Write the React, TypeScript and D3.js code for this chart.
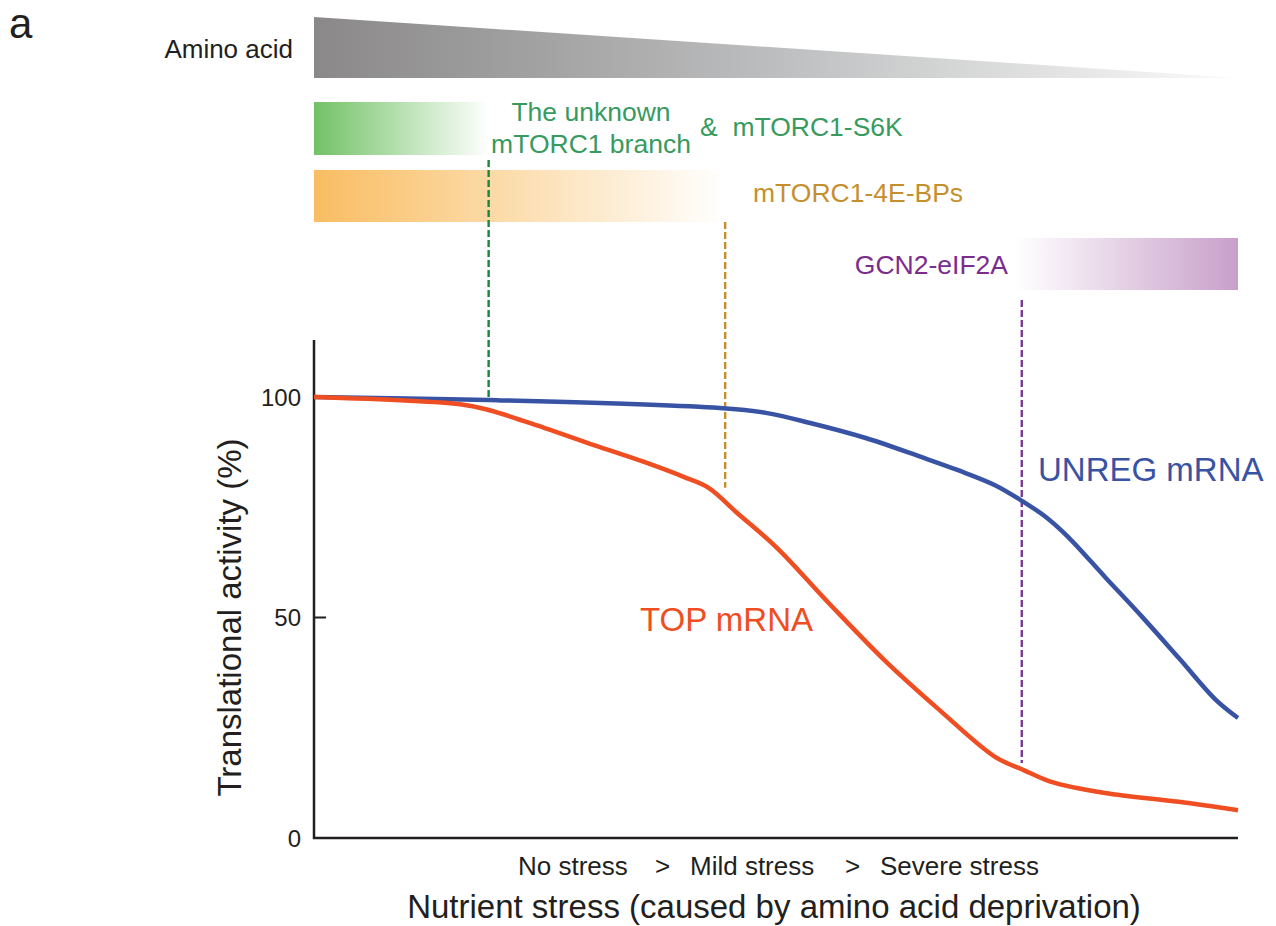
import React from "react";
import * as d3 from "d3";

// ---- data ----
const topX = [0, 16.0, 19.0, 24.9, 30.3, 36.1, 40.0, 42.7, 45.8, 50.1, 55.7, 61.7, 67.7, 73.7, 76.8, 79.7, 85.6, 93.6, 100];
const topY = [100, 98.3, 97.0, 93.0, 89.1, 85.0, 81.9, 79.4, 73.7, 65.8, 53.3, 40.4, 29.0, 18.4, 15.4, 12.8, 10.2, 8.2, 6.3];
const unregX = [0, 19.0, 43.9, 48.9, 53.7, 59.7, 65.7, 69.7, 73.7, 76.8, 79.2, 81.6, 85.6, 89.6, 93.6, 97.6, 100];
const unregY = [100, 99.3, 97.5, 96.4, 94.1, 90.7, 86.4, 83.4, 80.0, 76.2, 72.8, 68.3, 59.2, 50.2, 40.8, 31.3, 27.2];
const yTicks = [0, 50, 100];
const stressLevels = ["No stress", ">", "Mild stress", ">", "Severe stress"];
const stressLabelX = [518, 655, 690, 845, 880];

// thresholds (x in stress units) and where their dashed markers end (y in %)
const s6kX = 18.9, s6kEnd = 99.3;
const bpX = 44.5, bpEnd = 79.4;
const gcnX = 76.6, gcnEnd = 17;
const gcnStart = 76;

const FONT = "'Liberation Sans', Arial, Helvetica, sans-serif";

export default function App() {
  const W = 1276, H = 926;
  const x = d3.scaleLinear().domain([0, 100]).range([314, 1238]);
  const y = d3.scaleLinear().domain([0, 100]).range([838, 397]);

  const line = d3
    .line<[number, number]>()
    .x((d) => x(d[0]))
    .y((d) => y(d[1]))
    .curve(d3.curveCatmullRom.alpha(0.5));

  const topPts = topX.map((v, i) => [v, topY[i]] as [number, number]);
  const unregPts = unregX.map((v, i) => [v, unregY[i]] as [number, number]);

  const tri = `M${x(0)},17 L${x(0)},78 L${x(100)},78 Z`;

  return (
    <svg width={W} height={H} style={{ display: "block", position: "absolute", left: 0, top: 0 }} fontFamily={FONT}>
      <defs>
        <linearGradient id="gGray" x1="0" x2="1" y1="0" y2="0">
          <stop offset="0" stopColor="#8a8889" />
          <stop offset="0.5" stopColor="#bdbebf" />
          <stop offset="1" stopColor="#fbfbfb" />
        </linearGradient>
        <linearGradient id="gGreen" x1="0" x2="1" y1="0" y2="0">
          <stop offset="0" stopColor="#72c166" />
          <stop offset="1" stopColor="#ffffff" />
        </linearGradient>
        <linearGradient id="gOrange" x1="0" x2="1" y1="0" y2="0">
          <stop offset="0" stopColor="#f9bd62" />
          <stop offset="1" stopColor="#ffffff" />
        </linearGradient>
        <linearGradient id="gPurple" x1="0" x2="1" y1="0" y2="0">
          <stop offset="0" stopColor="#ffffff" />
          <stop offset="1" stopColor="#c89fca" />
        </linearGradient>
      </defs>
      <rect width={W} height={H} fill="#fff" />

      <text x={9} y={38} fontSize={42} fill="#231f20">a</text>

      {/* Amino acid gradient triangle */}
      <text x={293} y={58} fontSize={26} textAnchor="end" fill="#231f20">Amino acid</text>
      <path d={tri} fill="url(#gGray)" />

      {/* pathway bars */}
      <rect x={x(0)} y={102} width={x(s6kX) - x(0)} height={53} fill="url(#gGreen)" />
      <rect x={x(0)} y={170} width={x(bpX) - x(0)} height={52} fill="url(#gOrange)" />
      <rect x={x(gcnStart)} y={238} width={x(100) - x(gcnStart)} height={52} fill="url(#gPurple)" />

      <g fill="#379a5e" fontSize={26.5}>
        <text x={591} y={121} textAnchor="middle">The unknown</text>
        <text x={591} y={153} textAnchor="middle">mTORC1 branch</text>
        <text x={700} y={136} style={{ whiteSpace: "pre" }}>&amp;  mTORC1-S6K</text>
      </g>
      <text x={753} y={202} fontSize={26.5} fill="#c68f2e">mTORC1-4E-BPs</text>
      <text x={1008} y={274} fontSize={26.5} fill="#7b2d8e" textAnchor="end">GCN2-eIF2A</text>

      {/* threshold dashed lines */}
      <line x1={x(s6kX)} x2={x(s6kX)} y1={160} y2={y(s6kEnd)} stroke="#17873f" strokeWidth={2.4} strokeDasharray="7,3" />
      <line x1={x(bpX)} x2={x(bpX)} y1={222} y2={y(bpEnd)} stroke="#c68f2e" strokeWidth={2.4} strokeDasharray="7,3" />
      <line x1={x(gcnX)} x2={x(gcnX)} y1={300} y2={y(gcnEnd)} stroke="#7b3a99" strokeWidth={2.4} strokeDasharray="7,3" />

      {/* axes */}
      <line x1={x(0)} x2={x(0)} y1={340} y2={y(0) + 1} stroke="#231f20" strokeWidth={2.5} />
      <line x1={x(0) - 1} x2={x(100)} y1={y(0)} y2={y(0)} stroke="#231f20" strokeWidth={2.5} />
      {yTicks.map((t) => (
        <g key={t}>
          <line x1={x(0)} x2={x(0) + 12} y1={y(t)} y2={y(t)} stroke="#231f20" strokeWidth={2} />
          <text x={301} y={y(t)} dy="0.36em" fontSize={24} textAnchor="end" fill="#231f20">{t}</text>
        </g>
      ))}

      <text transform={`translate(241,${y(50)}) rotate(-90)`} textAnchor="middle" fontSize={33} fill="#231f20">
        Translational activity (%)
      </text>

      {/* curves */}
      <path d={line(unregPts) || ""} fill="none" stroke="#3953a4" strokeWidth={4.5} />
      <path d={line(topPts) || ""} fill="none" stroke="#ef4e23" strokeWidth={4.5} />

      <text x={640} y={631} fontSize={33} fill="#ef4e23">TOP mRNA</text>
      <text x={1038} y={481} fontSize={33} fill="#3953a4">UNREG mRNA</text>

      {/* x-axis labels */}
      {stressLevels.map((s, i) => (
        <text key={i} x={stressLabelX[i]} y={875} fontSize={26} fill="#231f20">{s}</text>
      ))}
      <text x={774} y={918} fontSize={33} textAnchor="middle" fill="#231f20">
        Nutrient stress (caused by amino acid deprivation)
      </text>
    </svg>
  );
}
